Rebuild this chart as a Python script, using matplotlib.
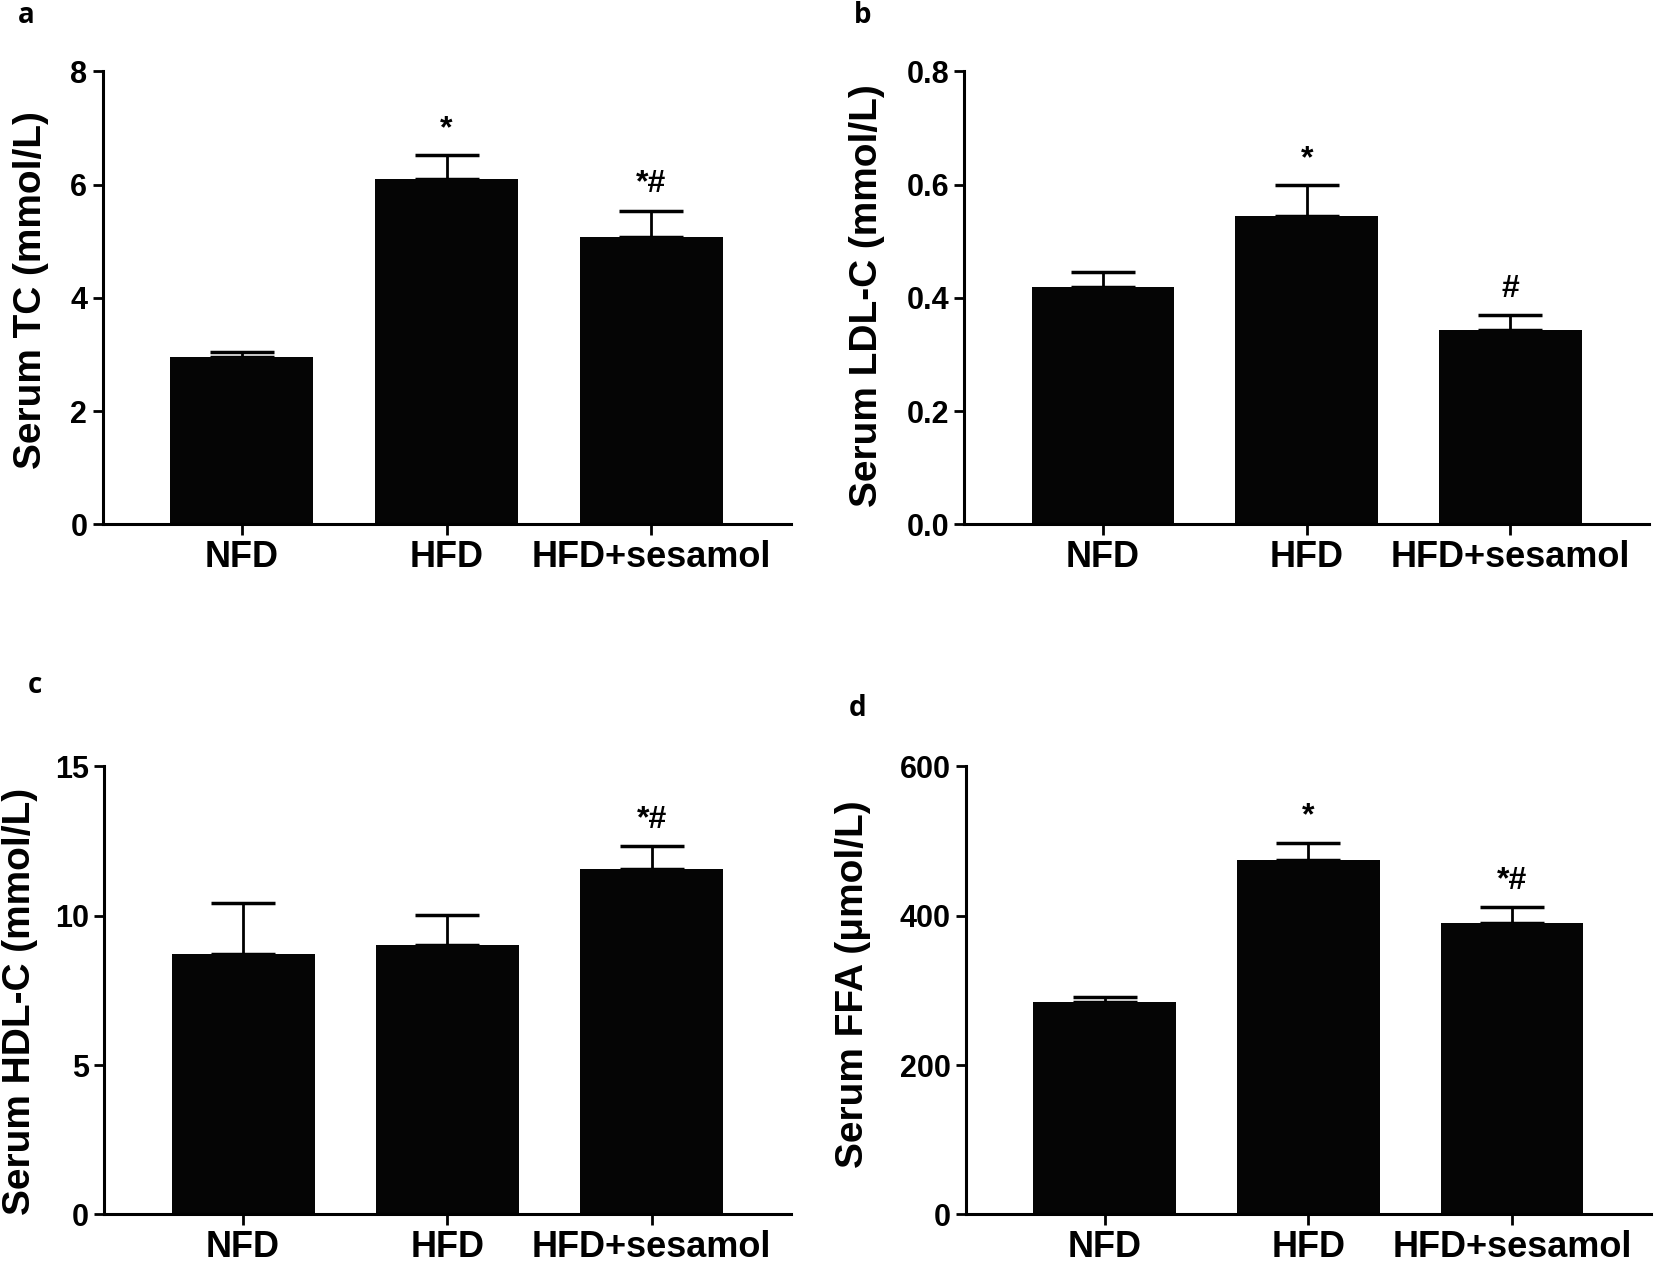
import numpy as np
import matplotlib.pyplot as plt

groups = ["NFD", "HFD", "HFD+sesamol"]

tc_mean = [2.95, 6.10, 5.07]
tc_err = [0.09, 0.42, 0.47]
tc_marks = ["", "*", "*#"]

ldl_mean = [0.420, 0.545, 0.343]
ldl_err = [0.025, 0.054, 0.027]
ldl_marks = ["", "*", "#"]

hdl_mean = [8.72, 9.03, 11.56]
hdl_err = [1.69, 0.98, 0.78]
hdl_marks = ["", "", "*#"]

ffa_mean = [284, 475, 390]
ffa_err = [7, 23, 21]
ffa_marks = ["", "*", "*#"]

sans = ["Liberation Sans", "DejaVu Sans"]

fig = plt.figure(figsize=(16.54, 12.73), dpi=100)


def panel(rect, mean, err, marks, ticks, ticklabels, ylabel, lab_xy, letter, let_xy):
    ax = fig.add_axes(rect)
    x = np.arange(len(groups))
    ax.bar(x, mean, width=0.7, color="#050505", zorder=2)
    ax.errorbar(x, mean, yerr=[np.zeros(len(err)), err], fmt="none",
                ecolor="black", elinewidth=2, capsize=23, capthick=2.5, zorder=1)
    top = ticks[-1]
    for xi, m, e, s in zip(x, mean, err, marks):
        if s:
            ax.text(xi, m + e + 0.025 * top, s, ha="center", va="bottom",
                    fontsize=23, family=sans, fontweight="bold")
    ax.set_xlim(-0.68, 2.68)
    ax.set_ylim(0, top)
    ax.set_yticks(ticks)
    ax.set_yticklabels(ticklabels, family=sans, fontweight="bold", fontsize=22)
    ax.set_xticks(x)
    ax.set_xticklabels(groups, family=sans, fontweight="bold", fontsize=26)
    for side in ["top", "right"]:
        ax.spines[side].set_visible(False)
    for side in ["left", "bottom"]:
        ax.spines[side].set_linewidth(2.2)
    ax.tick_params(axis="y", length=7, width=2, pad=4)
    ax.tick_params(axis="x", length=8, width=2, pad=3)
    ax.spines["left"].set_bounds(0, top)
    fig.text(lab_xy[0], lab_xy[1], ylabel, rotation=90, ha="center", va="center",
             family=sans, fontweight="bold", fontsize=28)
    fig.text(let_xy[0], let_xy[1], letter, ha="left", va="top",
             family=["Open Sans", "DejaVu Sans"], fontweight="bold", fontsize=20)
    return ax


panel([0.062, 0.588, 0.416, 0.356], tc_mean, tc_err, tc_marks,
      [0, 2, 4, 6, 8], ["0", "2", "4", "6", "8"],
      "Serum TC (mmol/L)", (0.019, 0.772), "a", (0.011, 0.999))
panel([0.583, 0.588, 0.414, 0.356], ldl_mean, ldl_err, ldl_marks,
      [0, 0.2, 0.4, 0.6, 0.8], ["0.0", "0.2", "0.4", "0.6", "0.8"],
      "Serum LDL-C (mmol/L)", (0.524, 0.768), "b", (0.516, 0.999))
panel([0.063, 0.046, 0.415, 0.352], hdl_mean, hdl_err, hdl_marks,
      [0, 5, 10, 15], ["0", "5", "10", "15"],
      "Serum HDL-C (mmol/L)", (0.012, 0.213), "c", (0.017, 0.473))
panel([0.584, 0.046, 0.414, 0.352], ffa_mean, ffa_err, ffa_marks,
      [0, 200, 400, 600], ["0", "200", "400", "600"],
      "Serum FFA (\u03bcmol/L)", (0.516, 0.227), "d", (0.513, 0.455))

plt.savefig("out.png", dpi=100)
